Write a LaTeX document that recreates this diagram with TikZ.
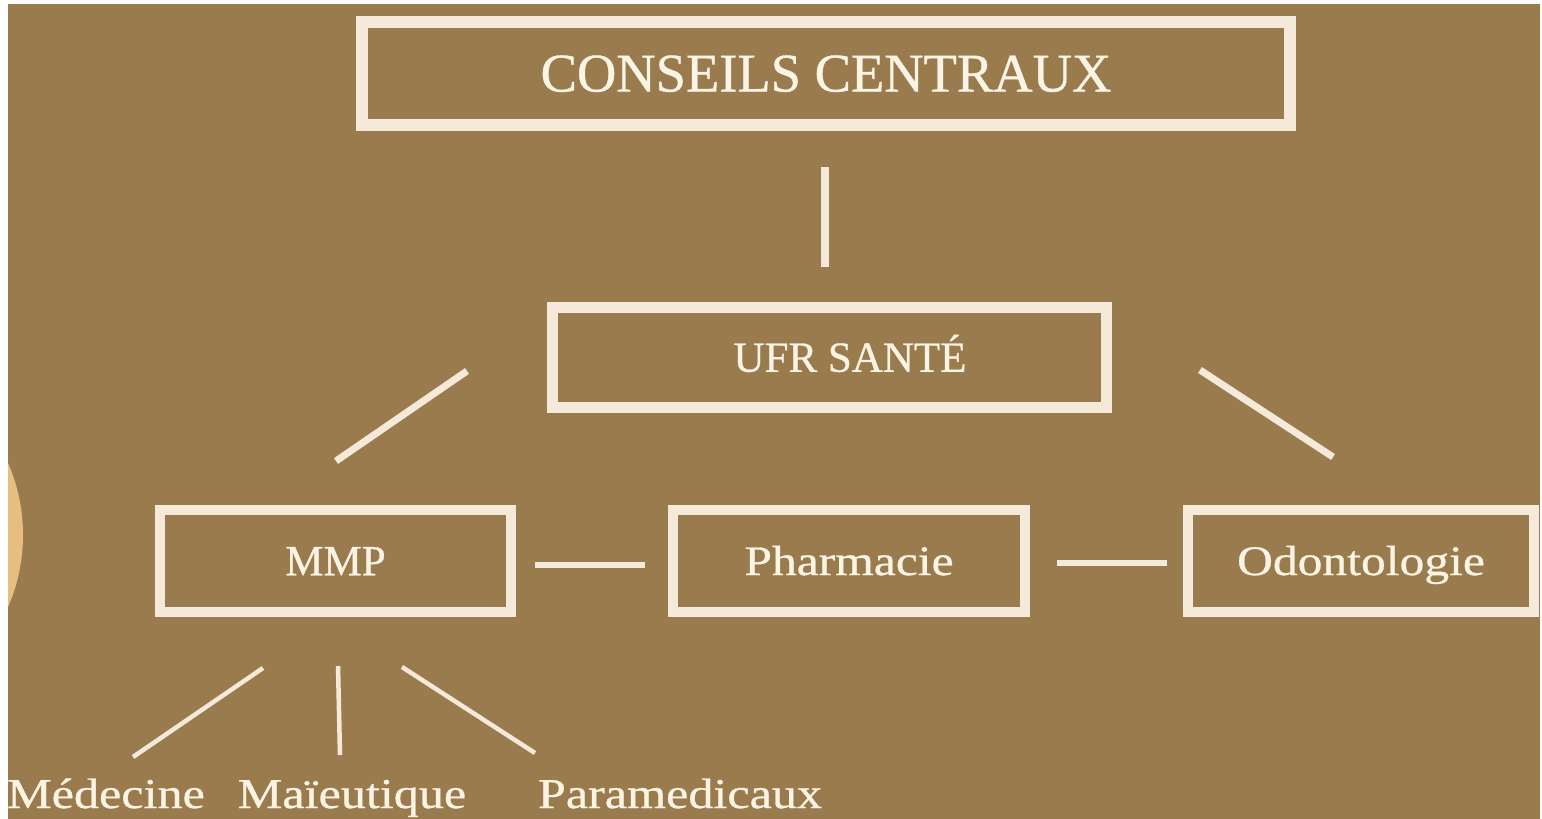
\documentclass[tikz,border=0pt]{standalone}
\usepackage{fontspec}
\setmainfont[FakeBold=0.7]{Liberation Serif}
\newfontfamily\wideserif[FakeStretch=1.18,FakeBold=0.7]{Liberation Serif}
\definecolor{bgbrown}{RGB}{154,123,78}
\definecolor{cream}{RGB}{245,234,218}
\definecolor{txtcream}{RGB}{251,243,228}
\definecolor{tan}{RGB}{232,190,128}
\tikzset{
  box/.style={draw=cream, rectangle, inner sep=0pt, text=txtcream, text depth=0pt},
  boxtext/.style={text=txtcream, inner sep=0pt, text depth=0pt},
  conn/.style={draw=cream, line cap=butt},
  leaf/.style={text=txtcream, inner sep=0pt, anchor=base, font=\wideserif\fontsize{42.5}{48}\selectfont}
}
\begin{document}
\begin{tikzpicture}[x=1pt,y=-1pt]
\useasboundingbox (0,0) rectangle (1542,819);
\fill[white] (0,0) rectangle (1542,819);
\fill[bgbrown] (8,4) rectangle (1540,819);
\begin{scope}
  \clip (8,4) rectangle (1540,819);
  \fill[tan] (-157,535) circle[radius=180];
\end{scope}

% boxes
\node[box, line width=12pt, minimum width=928pt, minimum height=103pt,
      font=\fontsize{54.5}{60}\selectfont, text height=36pt] (cc) at (826,73.5) {CONSEILS CENTRAUX};
\node[box, line width=11pt, minimum width=554pt, minimum height=100pt] (ufr) at (829.5,357.5) {};
\node[boxtext, font=\fontsize{43}{48}\selectfont, text height=28.5pt] (ufrt) at (850,357.5) {UFR SANTÉ};
\node[box, line width=10pt, minimum width=351pt, minimum height=102pt,
      font=\fontsize{43}{48}\selectfont, text height=28.5pt] (mmp) at (335.5,561) {MMP};
\node[box, line width=10pt, minimum width=352pt, minimum height=102pt,
      font=\wideserif\fontsize{42}{48}\selectfont, text height=28pt] (pha) at (849,561) {Pharmacie};
\node[box, line width=10pt, minimum width=346pt, minimum height=102pt,
      font=\wideserif\fontsize{42}{48}\selectfont, text height=28pt] (odo) at (1361,561) {Odontologie};

% leaves
\node[leaf] (med) at (106,808) {Médecine};
\node[leaf] (mai) at (352,808) {Maïeutique};
\node[leaf] (par) at (680,808) {Paramedicaux};

% connector end points
\coordinate (v1a) at (825,167);   \coordinate (v1b) at (825,267);
\coordinate (d1a) at (467,371);   \coordinate (d1b) at (336,461);
\coordinate (d2a) at (1200,370);  \coordinate (d2b) at (1333,457);
\coordinate (h1a) at (535,565);   \coordinate (h1b) at (645,565);
\coordinate (h2a) at (1057,563);  \coordinate (h2b) at (1167,563);
\coordinate (b1a) at (263,668);   \coordinate (b1b) at (133,757);
\coordinate (b2a) at (338,666);   \coordinate (b2b) at (340,755);
\coordinate (b3a) at (402,667);   \coordinate (b3b) at (535,753);

\draw[conn, line width=8.5pt] (v1a) -- (v1b);
\draw[conn, line width=7pt] (d1a) -- (d1b);
\draw[conn, line width=7pt] (d2a) -- (d2b);
\draw[conn, line width=5.5pt] (h1a) -- (h1b);
\draw[conn, line width=5.5pt] (h2a) -- (h2b);
\draw[conn, line width=4.5pt] (b1a) -- (b1b);
\draw[conn, line width=4.5pt] (b2a) -- (b2b);
\draw[conn, line width=4.5pt] (b3a) -- (b3b);
\end{tikzpicture}
\end{document}
